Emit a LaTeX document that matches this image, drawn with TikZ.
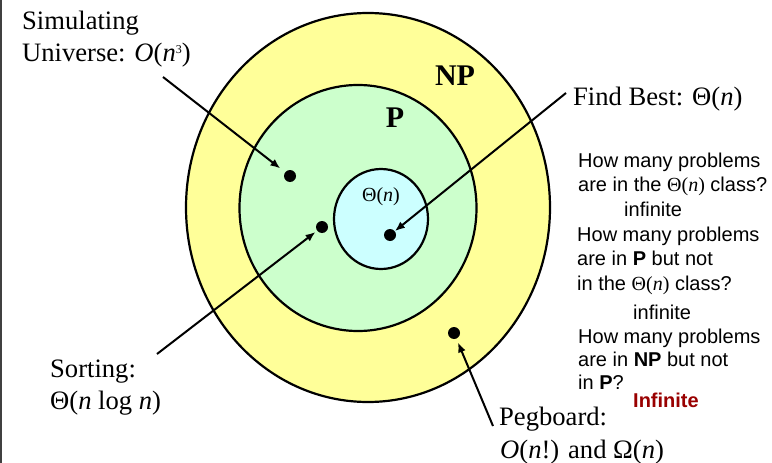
\documentclass[tikz,border=0pt]{standalone}
\usepackage{fontspec}
\setmainfont{Liberation Serif}
\setsansfont{Liberation Sans}
\usetikzlibrary{arrows.meta}
\definecolor{npyellow}{HTML}{FFFF99}
\definecolor{pgreen}{HTML}{CCFFCC}
\definecolor{lblue}{HTML}{CCFFFF}
\definecolor{infred}{HTML}{990000}
\tikzset{
  classring/.style={draw=black, line width=2.2pt},
  dotnode/.style={circle, fill=black, inner sep=0pt, minimum size=12pt},
  pointer/.style={line width=2pt, -{Latex[length=10pt,width=8pt]}},
  biglabel/.style={inner sep=0pt, anchor=base west, font=\fontsize{26.6}{31}\selectfont},
  qline/.style={inner sep=0pt, anchor=base west, font=\sffamily\fontsize{20}{24}\selectfont},
  classname/.style={inner sep=0pt, anchor=base, font=\bfseries\fontsize{30}{36}\selectfont}
}
\newcommand{\thetan}{{\rmfamily\textup{Θ(}\textit{n}\textup{)}}}
\newcommand{\smallsup}[1]{\raisebox{8pt}{\fontsize{12}{12}\selectfont #1}}
\begin{document}
\begin{tikzpicture}[x=1pt,y=-1pt]
\useasboundingbox (0,0) rectangle (772,463);
\draw[line width=1.5pt, black!75] (1,0) -- (1,463);
% class circles
\draw[classring, fill=npyellow] (368,207.5) ellipse [x radius=182, y radius=194.5];
\draw[classring, fill=pgreen] (358,208) ellipse [x radius=118.5, y radius=123];
\draw[classring, fill=lblue] (381,219) ellipse [x radius=47, y radius=50];
% class names
\node[classname] (np) at (455,85) {NP};
\node[classname] (p) at (395,127) {P};
\node[inner sep=0pt, anchor=base, font=\fontsize{20}{24}\selectfont] (thn) at (381,201.5) {Θ(\textit{n})};
% dots
\node[dotnode] (dsim) at (290,176) {};
\node[dotnode] (dsort) at (322,227) {};
\node[dotnode] (dfind) at (390,235) {};
\node[dotnode] (dpeg) at (454,333) {};
% labels
\node[biglabel] (sim1) at (22,29.5) {Simulating};
\node[biglabel] (sim2) at (22,61) {Universe: \textit{O}(\textit{n}\smallsup{3})};
\node[biglabel] (find) at (573,105) {Find Best: Θ(\textit{n})};
\node[biglabel] (sort1) at (50,377) {Sorting:};
\node[biglabel] (sort2) at (50,409.5) {Θ(\textit{n} log \textit{n})};
\node[biglabel] (peg1) at (499,425) {Pegboard:};
\node[biglabel] (peg2) at (500,458) {\textit{O}(\textit{n}!) and Ω(\textit{n})};
% arrow start points
\coordinate (ssim) at (163,77);
\coordinate (ssort) at (157,354);
\coordinate (sfind) at (566,93);
\coordinate (speg) at (493,426);
\draw[pointer, shorten >=6pt] (ssim) -- (dsim);
\draw[pointer, shorten >=2pt] (ssort) -- (dsort);
\draw[pointer, shorten >=0pt] (sfind) -- (dfind);
\draw[pointer, shorten >=4pt] (speg) -- (dpeg);
% questions
\node[qline] (q1a) at (578,167.3) {How many problems};
\node[qline] (q1b) at (578,191.5) {are in the \thetan{} class?};
\node[qline] (a1) at (624,216) {infinite};
\node[qline] (q2a) at (577,241.5) {How many problems};
\node[qline] (q2b) at (577,265) {are in \textbf{P} but not};
\node[qline] (q2c) at (577,290) {in the \thetan{} class?};
\node[qline] (a2) at (633,319) {infinite};
\node[qline] (q3a) at (578,343) {How many problems};
\node[qline] (q3b) at (578,366.5) {are in \textbf{NP} but not};
\node[qline] (q3c) at (578,389.5) {in \textbf{P}?};
\node[qline, text=infred, font=\sffamily\bfseries\fontsize{20}{24}\selectfont] (a3) at (633,407) {Infinite};
\end{tikzpicture}
\end{document}
